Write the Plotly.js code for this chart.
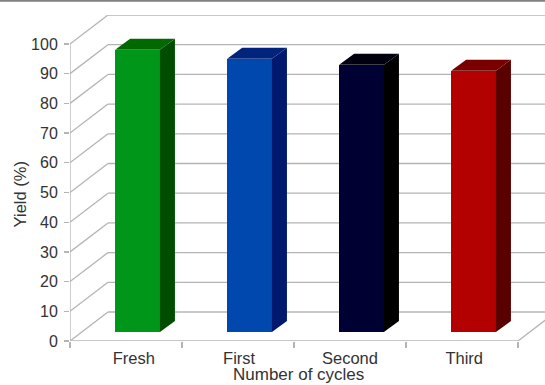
<!DOCTYPE html>
<html>
<head>
<meta charset="utf-8">
<script src="https://cdn.plot.ly/plotly-3.0.1.min.js"></script>
<style>html,body{margin:0;padding:0;background:#fff}#chart{width:545px;height:385px}</style>
</head>
<body>
<div id="chart"></div>
<script>
// Catalyst yield across reuse cycles, drawn as pseudo-3D columns.
const categories = ['Fresh', 'First', 'Second', 'Third'];
const yieldValues = [95, 92, 90, 88];
const frontColors = ['#00961a', '#0047ae', '#000033', '#b30000'];
const sideColors = ['#004d00', '#00186e', '#000000', '#5a0000'];
const topColors = ['#006a00', '#00247c', '#00000f', '#7a0000'];
const yTicks = [0, 10, 20, 30, 40, 50, 60, 70, 80, 90, 100];
const categoryEdges = [0, 1, 2, 3, 4];
const labelPositions = [0.57, 1.51, 2.5, 3.52];

// Projection of the depth direction, in axis units.
const wallDepth = { x: 0.339, y: 9.76 };
const barInset = { x: 0.103, y: 3.03 };
const barDepth = { x: 0.134, y: 3.7 };
const barWidth = 0.4;
const xMax = 4.241;
const yMax = 109.76;
const gridColor = '#b4b4b4';
const textColor = '#333333';
const fontFamily = '"Liberation Sans", Arial, sans-serif';

const centers = categories.map((_, i) => i + 0.5);
const barCenters = centers.map(c => c + barInset.x);

// Walls and floor sit under the columns as below-layer shapes.
const segment = (x0, y0, x1, y1, color, width) => ({
  type: 'line', layer: 'below', xref: 'x', yref: 'y', x0, y0, x1, y1,
  line: { color: color || gridColor, width: width || 1.3 }
});
const shapes = [];
yTicks.forEach(v => {
  shapes.push(segment(0, v, wallDepth.x, v + wallDepth.y));
  shapes.push(segment(wallDepth.x, v + wallDepth.y, xMax, v + wallDepth.y));
});
shapes.push(segment(0, 0, 0, 100));
shapes.push(segment(0, 0, 4, 0));
shapes.push(segment(4, 0, 4 + wallDepth.x, wallDepth.y));
shapes.push({
  type: 'line', xref: 'paper', yref: 'paper', x0: -0.15, x1: 1, y0: 1.044, y1: 1.044,
  line: { color: '#808080', width: 2 }
});

// Front faces are real bars; side and top faces are filled polygons.
const traces = [{
  type: 'bar',
  x: barCenters,
  y: yieldValues,
  base: barInset.y,
  width: barWidth,
  marker: { color: frontColors, line: { width: 0 } },
  hoverinfo: 'skip',
  showlegend: false
}];
const face = (xs, ys, color) => ({
  type: 'scatter', mode: 'lines', x: xs, y: ys, fill: 'toself',
  fillcolor: color, line: { width: 0, color }, hoverinfo: 'skip', showlegend: false
});
barCenters.forEach((c, i) => {
  const r = c + barWidth / 2;
  const l = c - barWidth / 2;
  const b = barInset.y;
  const t = barInset.y + yieldValues[i];
  traces.push(face(
    [r, r + barDepth.x, r + barDepth.x, r, r],
    [b, b + barDepth.y, t + barDepth.y, t, b],
    sideColors[i]
  ));
  traces.push(face(
    [l, l + barDepth.x, r + barDepth.x, r, l],
    [t, t + barDepth.y, t + barDepth.y, t, t],
    topColors[i]
  ));
});

const layout = {
  width: 545,
  height: 385,
  margin: { l: 70, r: 0, t: 15, b: 44 },
  paper_bgcolor: '#ffffff',
  plot_bgcolor: '#ffffff',
  showlegend: false,
  font: { family: fontFamily, size: 16, color: textColor },
  xaxis: {
    range: [0, xMax],
    showgrid: false,
    zeroline: false,
    showline: false,
    tickmode: 'array',
    tickvals: labelPositions,
    ticktext: categories,
    ticks: '',
    ticklabelstandoff: 5,
    minor: { tickmode: 'array', tickvals: categoryEdges, ticks: 'outside', ticklen: 6, tickwidth: 1.3, tickcolor: gridColor, showgrid: false },
    tickfont: { family: fontFamily, size: 16.5, color: textColor }
  },
  yaxis: {
    range: [0, yMax],
    showgrid: false,
    zeroline: false,
    showline: false,
    tickmode: 'array',
    tickvals: yTicks,
    ticks: 'outside',
    ticklen: 5,
    tickwidth: 1.3,
    tickcolor: gridColor,
    ticklabelstandoff: 3,
    tickfont: { family: fontFamily, size: 16, color: textColor }
  },
  shapes,
  annotations: [
    { text: 'Number of cycles', xref: 'paper', yref: 'paper', x: 0.48, y: -0.103, yanchor: 'middle', showarrow: false, font: { size: 17, color: textColor, family: fontFamily } },
    { text: 'Yield (%)', xref: 'paper', yref: 'paper', x: -0.105, y: 0.45, textangle: -90, xanchor: 'center', yanchor: 'middle', showarrow: false, font: { size: 16.5, color: textColor, family: fontFamily } }
  ],
  bargap: 0
};

Plotly.newPlot('chart', traces, layout, { displayModeBar: false, staticPlot: true });
</script>
</body>
</html>
